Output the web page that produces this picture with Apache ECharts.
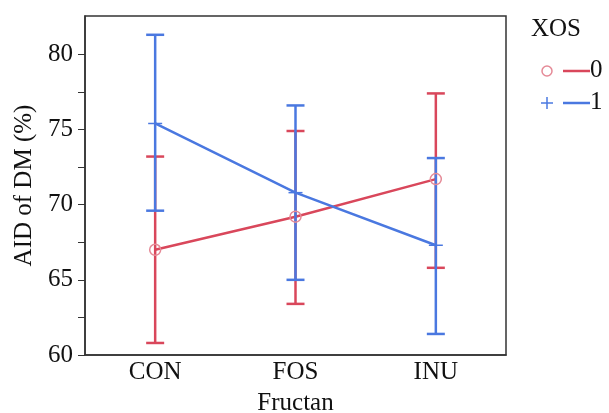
<!DOCTYPE html>
<html>
<head>
<meta charset="utf-8">
<script src="https://cdn.jsdelivr.net/npm/echarts@6/dist/echarts.min.js"></script>
<style>html,body{margin:0;padding:0;background:#fff}#c{width:609px;height:413px}</style>
</head>
<body>
<div id="c"></div>
<script>
const categories = ['CON', 'FOS', 'INU'];
const mean0 = [67.0, 69.2, 71.7];
const upper0 = [73.2, 74.9, 77.4];
const lower0 = [60.8, 63.4, 65.8];
const mean1 = [75.4, 70.8, 67.3];
const upper1 = [81.3, 76.6, 73.1];
const lower1 = [69.6, 65.0, 61.4];
const yMajorTicks = [60, 65, 70, 75, 80];
const yAllTicks = [60, 62.5, 65, 67.5, 70, 72.5, 75, 77.5, 80];

const RED = '#D9475B';
const RED_LIGHT = '#E58A97';
const BLUE = '#4A78E0';
const FONT = '"Liberation Serif", "DejaVu Serif", serif';
const TXT = '#111';
const FS = 25;

function errData(lo, hi, mean) {
  return categories.map((c, i) => [i, lo[i], hi[i], mean[i]]);
}
function makeErr(color, plus) {
  return function (params, api) {
    const x = api.value(0);
    const lo = api.coord([x, api.value(1)]);
    const hi = api.coord([x, api.value(2)]);
    const m = api.coord([x, api.value(3)]);
    const hw = 9;
    const style = { stroke: color, lineWidth: 2.5, fill: null };
    const children = [
      { type: 'line', shape: { x1: lo[0], y1: lo[1], x2: hi[0], y2: hi[1] }, style },
      { type: 'line', shape: { x1: lo[0] - hw, y1: lo[1], x2: lo[0] + hw, y2: lo[1] }, style },
      { type: 'line', shape: { x1: hi[0] - hw, y1: hi[1], x2: hi[0] + hw, y2: hi[1] }, style }
    ];
    if (plus) {
      children.push({ type: 'line', shape: { x1: m[0] - 7, y1: m[1], x2: m[0] + 7, y2: m[1] }, style: { stroke: color, lineWidth: 1.5 } });
    }
    return { type: 'group', children };
  };
}

const chart = echarts.init(document.getElementById('c'), null, { renderer: 'canvas' });
chart.setOption({
  animation: false,
  backgroundColor: '#fff',
  grid: { left: 85, top: 16, right: 103, bottom: 58, outerBoundsMode: 'none', containLabel: false,
          show: true, borderColor: '#333', borderWidth: 1.5, backgroundColor: 'transparent' },
  xAxis: {
    type: 'category', data: categories, boundaryGap: true,
    name: 'Fructan', nameLocation: 'middle', nameGap: 36,
    nameTextStyle: { fontFamily: FONT, fontSize: FS, color: TXT },
    axisLine: { lineStyle: { color: '#333', width: 1.5 } },
    axisTick: { show: false },
    axisLabel: { fontFamily: FONT, fontSize: FS, color: TXT, margin: 5 }
  },
  yAxis: [{
    type: 'value', min: 60, max: 82.55, interval: 2.5,
    name: 'AID of DM (%)', nameLocation: 'middle', nameGap: 48, nameRotate: 90,
    nameTextStyle: { fontFamily: FONT, fontSize: FS, color: TXT },
    axisLine: { show: true, lineStyle: { color: '#333', width: 1.5 } },
    axisTick: { show: true, length: 7, customValues: yAllTicks, lineStyle: { color: '#333', width: 1 } },
    axisLabel: { fontFamily: FONT, fontSize: FS, color: TXT, margin: 12, customValues: yMajorTicks },
    splitLine: { show: false }
  }],
  series: [
    {
      type: 'custom', name: 'err0', renderItem: makeErr(RED, false),
      data: errData(lower0, upper0, mean0), encode: { x: 0, y: [1, 2] }, z: 2
    },
    {
      type: 'line', name: '0', data: mean0, z: 3,
      lineStyle: { color: RED, width: 2.5 },
      symbol: 'none'
    },
    {
      type: 'custom', name: 'err1', renderItem: makeErr(BLUE, true),
      data: errData(lower1, upper1, mean1), encode: { x: 0, y: [1, 2] }, z: 4
    },
    {
      type: 'line', name: '1', data: mean1, z: 5,
      lineStyle: { color: BLUE, width: 2.5 },
      symbol: 'none'
    },
    {
      type: 'line', name: '0m', data: mean0, z: 6,
      lineStyle: { opacity: 0 },
      symbol: 'circle', symbolSize: 11,
      itemStyle: { color: 'rgba(0,0,0,0)', borderColor: RED_LIGHT, borderWidth: 1.5 }
    }
  ],
  graphic: [
    { type: 'text', left: 531, top: 17, style: { text: 'XOS', font: FS + 'px ' + FONT, fill: TXT } },
    { type: 'circle', shape: { cx: 547, cy: 71, r: 5 }, style: { stroke: RED_LIGHT, fill: null, lineWidth: 1.5 } },
    { type: 'line', shape: { x1: 563, y1: 71, x2: 590, y2: 71 }, style: { stroke: RED, lineWidth: 2.5 } },
    { type: 'text', left: 590, top: 58, style: { text: '0', font: FS + 'px ' + FONT, fill: TXT } },
    { type: 'line', shape: { x1: 541, y1: 103, x2: 553, y2: 103 }, style: { stroke: BLUE, lineWidth: 1.5 } },
    { type: 'line', shape: { x1: 547, y1: 97, x2: 547, y2: 109 }, style: { stroke: BLUE, lineWidth: 1.5 } },
    { type: 'line', shape: { x1: 563, y1: 103, x2: 590, y2: 103 }, style: { stroke: BLUE, lineWidth: 2.5 } },
    { type: 'text', left: 590, top: 90, style: { text: '1', font: FS + 'px ' + FONT, fill: TXT } }
  ]
});
</script>
</body>
</html>
